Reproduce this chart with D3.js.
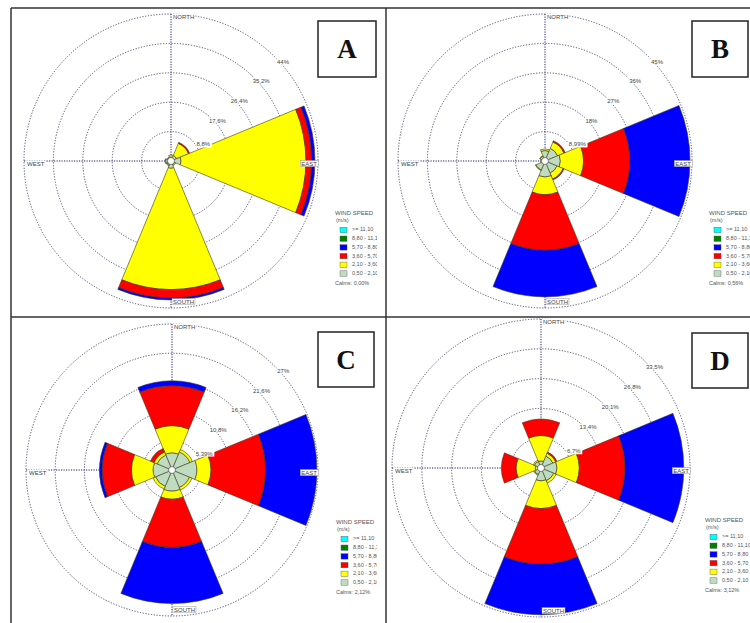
<!DOCTYPE html>
<html>
<head>
<meta charset="utf-8">
<script src="https://cdn.jsdelivr.net/npm/d3@7"></script>
<style>
body { margin: 0; background: #fff; }
</style>
</head>
<body>
<div id="chart"></div>
<script>
// wind directions, clockwise from north
const directions = ["N", "NE", "E", "SE", "S", "SW", "W", "NW"];
// speed classes, lowest first (m/s)
const speedClasses = ["0,50 - 2,10", "2,10 - 3,60", "3,60 - 5,70", "5,70 - 8,80", "8,80 - 11,10", ">= 11,10"];

// frequency (%) per direction, one value per speed class (low -> high)
const roseA = [
  [1.2, 0.6, 0, 0, 0, 0],
  [1.8, 3.9, 0.35, 0, 0, 0],
  [3.0, 37.4, 1.7, 1.0, 0, 0],
  [1.2, 0.3, 0, 0, 0, 0],
  [2.2, 36.3, 2.5, 0.6, 0, 0],
  [1.4, 0.2, 0, 0, 0, 0],
  [1.6, 0.2, 0, 0, 0, 0],
  [1.1, 0.2, 0, 0, 0, 0]
];
const ringsA = [8.8, 17.6, 26.4, 35.2, 44];
const ringLabelsA = ["8,8%", "17,6%", "26,4%", "35,2%", "44%"];
const calmsA = "Calms: 0,00%";

const roseB = [
  [3.2, 0.5, 0, 0, 0, 0],
  [4.2, 2.1, 0.4, 0, 0, 0],
  [4.7, 7.1, 14.2, 18.4, 0, 0],
  [4.0, 2.0, 0.3, 0, 0, 0],
  [4.9, 5.4, 17.0, 14.3, 0, 0],
  [3.0, 0.2, 0, 0, 0, 0],
  [1.4, 0, 0, 0, 0, 0],
  [1.6, 0.2, 0, 0, 0, 0]
];
const ringsB = [8.99, 18, 27, 36, 45];
const ringLabelsB = ["8,99%", "18%", "27%", "36%", "45%"];
const calmsB = "Calms: 0,56%";

const roseC = [
  [3.2, 5.0, 7.4, 0.9, 0, 0],
  [3.6, 0.5, 0, 0, 0, 0],
  [4.6, 2.6, 10.1, 9.5, 0, 0],
  [3.5, 0.5, 0, 0, 0, 0],
  [3.9, 1.5, 8.9, 10.4, 0, 0],
  [3.3, 0.5, 0, 0, 0, 0],
  [3.5, 4.0, 5.4, 0.5, 0, 0],
  [3.0, 0.6, 0.7, 0, 0, 0]
];
const ringsC = [5.39, 10.8, 16.2, 21.6, 27];
const ringLabelsC = ["5,39%", "10,8%", "16,2%", "21,6%", "27%"];
const calmsC = "Calms: 2,12%";

const roseD = [
  [1.6, 5.7, 3.7, 0, 0, 0],
  [2.9, 0.7, 0.3, 0, 0, 0],
  [3.6, 5.0, 10.3, 13.2, 0, 0],
  [3.1, 0.6, 0, 0, 0, 0],
  [2.9, 6.2, 12.5, 11.4, 0, 0],
  [1.6, 0.2, 0, 0, 0, 0],
  [1.3, 4.3, 3.3, 0, 0, 0],
  [1.6, 0.3, 0, 0, 0, 0]
];
const ringsD = [6.7, 13.4, 20.1, 26.8, 33.5];
const ringLabelsD = ["6,7%", "13,4%", "20,1%", "26,8%", "33,5%"];
const calmsD = "Calms: 3,12%";

// colours of the speed classes (same order as speedClasses)
const color = d3.scaleOrdinal()
  .domain(speedClasses)
  .range(["#c0dcc0", "#ffff00", "#ff0000", "#0000ff", "#008000", "#00ffff"]);

const W = 750, H = 623;
const svg = d3.select("#chart").append("svg")
  .attr("width", W)
  .attr("height", H)
  .style("font-family", "Arial, 'Liberation Sans', sans-serif");

// panel placement
const panels = [
  {name: "A", data: roseA, rings: ringsA, labels: ringLabelsA, calms: calmsA, cx: 171, cy: 161, R: 147, clip: [11, 8, 366, 309], box: [318, 21, 58, 56]},
  {name: "B", data: roseB, rings: ringsB, labels: ringLabelsB, calms: calmsB, cx: 545, cy: 161, R: 147, clip: [386, 8, 364, 309], box: [692, 21, 56, 56]},
  {name: "C", data: roseC, rings: ringsC, labels: ringLabelsC, calms: calmsC, cx: 172, cy: 470, R: 146, clip: [11, 317, 366, 306], box: [318, 332, 56, 55]},
  {name: "D", data: roseD, rings: ringsD, labels: ringLabelsD, calms: calmsD, cx: 541, cy: 468, R: 149, clip: [386, 317, 364, 306], box: [692, 333, 56, 55]}
];

const sector = Math.PI * 2 / directions.length;

panels.forEach(function(p, pi) {
  svg.append("clipPath").attr("id", "clip" + pi)
    .append("rect")
    .attr("x", p.clip[0]).attr("y", p.clip[1])
    .attr("width", p.clip[2]).attr("height", p.clip[3]);

  const g = svg.append("g").attr("clip-path", `url(#clip${pi})`);
  const c = g.append("g").attr("transform", `translate(${p.cx},${p.cy})`);

  // radial scale: frequency -> radius
  const r = d3.scaleLinear()
    .domain([0, p.rings[p.rings.length - 1]])
    .range([0, p.R]);

  // dotted rings
  c.selectAll("circle.ring")
    .data(p.rings)
    .join("circle")
      .attr("class", "ring")
      .attr("r", d => r(d))
      .attr("fill", "none")
      .attr("stroke", "#3c3c66")
      .attr("stroke-width", 0.9)
      .attr("stroke-dasharray", "1.2,1.6");

  // N-S and W-E axes
  c.append("line").attr("x1", 0).attr("x2", 0).attr("y1", -p.R).attr("y2", p.R)
    .attr("stroke", "#1c1c66").attr("stroke-width", 1).attr("stroke-dasharray", "1.2,1.3");
  c.append("line").attr("y1", 0).attr("y2", 0).attr("x1", -p.R).attr("x2", p.R)
    .attr("stroke", "#1c1c66").attr("stroke-width", 1).attr("stroke-dasharray", "1.2,1.3");

  // stacked petals
  const segs = [];
  p.data.forEach(function(vals, di) {
    let cum = 0;
    vals.forEach(function(v, ci) {
      if (v > 0) segs.push({dir: di, cls: speedClasses[ci], r0: cum, r1: cum + v});
      cum += v;
    });
  });
  const arc = d3.arc()
    .innerRadius(d => r(d.r0))
    .outerRadius(d => r(d.r1))
    .startAngle(d => d.dir * sector - sector / 2)
    .endAngle(d => d.dir * sector + sector / 2);
  c.selectAll("path.petal")
    .data(segs)
    .join("path")
      .attr("class", "petal")
      .attr("d", arc)
      .attr("fill", d => color(d.cls))
      .attr("stroke", "#3a3a1a")
      .attr("stroke-width", 0.6);

  // text with white background
  function boxedText(x, y, txt, anchor, border) {
    const t = c.append("text")
      .attr("x", x).attr("y", y)
      .attr("text-anchor", anchor)
      .attr("dominant-baseline", "middle")
      .style("font-size", "6px")
      .attr("fill", "#444")
      .text(txt);
    const b = t.node().getBBox();
    c.insert("rect", () => t.node())
      .attr("x", b.x - 1).attr("y", b.y)
      .attr("width", b.width + 2).attr("height", b.height)
      .attr("fill", "#fff")
      .attr("stroke", border ? "#999" : "none")
      .attr("stroke-width", 0.5);
  }

  // ring labels
  p.rings.forEach(function(v, i) {
    const a = (i === 0 ? 62 : 48) * Math.PI / 180;
    const rr = r(v) + (i === 0 ? 5 : 1);
    boxedText(rr * Math.sin(a) + 2, -rr * Math.cos(a), p.labels[i], "middle", false);
  });

  // compass labels
  boxedText(2, -p.R + 3, "NORTH", "start", false);
  boxedText(2, p.R - 6, "SOUTH", "start", true);
  boxedText(-p.R + 3, 3, "WEST", "start", false);
  boxedText(p.R - 1, 3, "EAST", "end", true);

  // calm circle
  c.append("circle").attr("r", 3.5).attr("fill", "#fff")
    .attr("stroke", "#333").attr("stroke-width", 0.6);

  // legend
  const lg = c.append("g").attr("transform", "translate(164,54)")
    .style("font-size", "5.5px").attr("fill", "#555");
  lg.append("text").attr("x", 0).attr("y", 0).style("font-size", "6px").text("WIND SPEED");
  lg.append("text").attr("x", 1).attr("y", 7).text("(m/s)");
  const legendItems = speedClasses.slice().reverse();
  legendItems.forEach(function(s, i) {
    const y = 15 + i * 8.7;
    lg.append("rect").attr("x", 5).attr("y", y - 2.7).attr("width", 7).attr("height", 5.4)
      .attr("fill", color(s)).attr("stroke", "#555").attr("stroke-width", 0.4);
    lg.append("text").attr("x", 17).attr("y", y).attr("dominant-baseline", "middle").text(s);
  });
  lg.append("text").attr("x", 0).attr("y", 70).text(p.calms);

  // panel letter box
  g.append("rect")
    .attr("x", p.box[0]).attr("y", p.box[1])
    .attr("width", p.box[2]).attr("height", p.box[3])
    .attr("fill", "#fff").attr("stroke", "#222").attr("stroke-width", 1.5);
  g.append("text")
    .attr("x", p.box[0] + p.box[2] / 2).attr("y", p.box[1] + p.box[3] / 2 + 9)
    .attr("text-anchor", "middle")
    .style("font-family", "'Liberation Serif', 'Times New Roman', serif")
    .style("font-weight", "bold")
    .style("font-size", "27px")
    .attr("fill", "#111")
    .text(p.name);
});

// frame lines between panels
const frame = [[11, 8, 11, H], [11, 8, W, 8], [386, 8, 386, H], [11, 317, W, 317]];
svg.selectAll("line.frame")
  .data(frame)
  .join("line")
    .attr("class", "frame")
    .attr("x1", d => d[0]).attr("y1", d => d[1])
    .attr("x2", d => d[2]).attr("y2", d => d[3])
    .attr("stroke", "#333")
    .attr("stroke-width", 1.5);
</script>
</body>
</html>
